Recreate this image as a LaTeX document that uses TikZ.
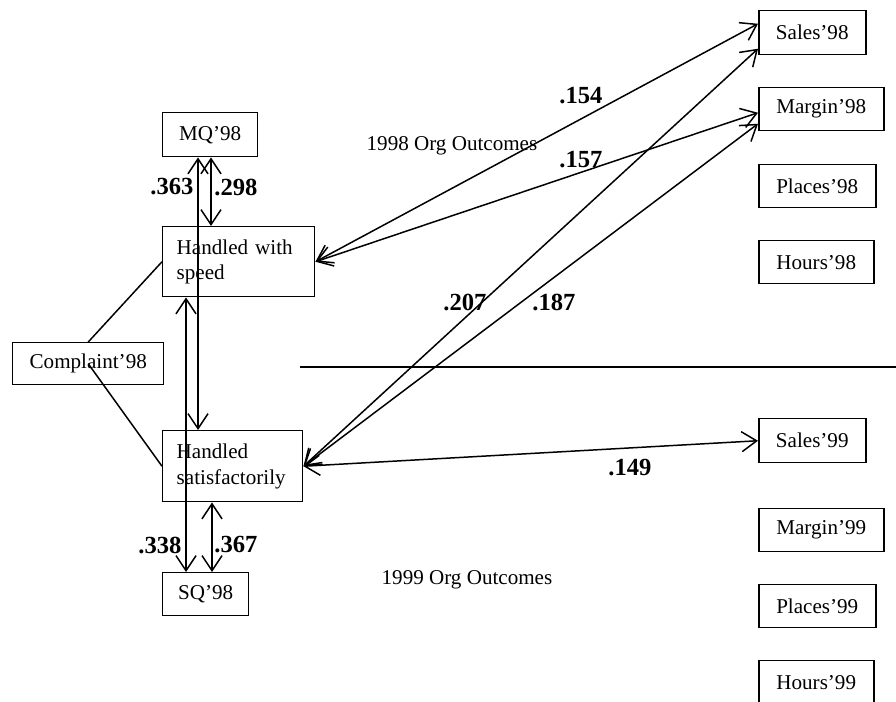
\documentclass[tikz,border=0pt]{standalone}
\usepackage{fontspec}
\setmainfont{Liberation Serif}
\usetikzlibrary{arrows.meta,positioning}

\begin{document}
\begin{tikzpicture} [line width=0.85pt, >={Straight Barb[length=0.3cm,width=0.4cm]}, every node/.style={font=\fontsize{12}{14.5}\selectfont}]
	
	\tikzstyle{arrow2} = [<->, line width=0.85pt]
	\tikzstyle{box1}=[draw, anchor=north west, inner sep=0pt];
	\tikzstyle{box2}=[draw, anchor=north west, align=left, inner xsep=0.28cm, inner ysep=0pt];
	\tikzstyle{node1}=[text=black];
	\tikzstyle{node3}=[text=black, font=\fontsize{14}{16}\selectfont\bfseries];
	
	\useasboundingbox (0,0) rectangle (17.92,-14.04);
	
	% left side
	\node [box1, minimum width=1.9cm, minimum height=0.88cm] (mq) at (3.24,-2.24){MQ'98};
	\node [box2, text width=2.48cm, minimum height=1.4cm] (speed) at (3.24,-4.52){Handled with\\speed};
	\node [box1, minimum width=3.02cm, minimum height=0.84cm] (compl) at (0.24,-6.84){Complaint'98};
	\node [box2, text width=2.24cm, minimum height=1.42cm] (satis) at (3.24,-8.6){Handled\\satisfactorily};
	\node [box1, minimum width=1.72cm, minimum height=0.86cm] (sq) at (3.24,-11.44){SQ'98};
	
	% outcomes
	\node [box1, minimum width=2.14cm, minimum height=0.88cm] (sales98) at (15.16,-0.2){Sales'98};
	\node [box1, minimum width=2.5cm, minimum height=0.86cm] (margin98) at (15.16,-1.74){Margin'98};
	\node [box1, minimum width=2.34cm, minimum height=0.86cm] (places98) at (15.16,-3.28){Places'98};
	\node [box1, minimum width=2.3cm, minimum height=0.86cm] (hours98) at (15.16,-4.8){Hours'98};
	\node [box1, minimum width=2.14cm, minimum height=0.88cm] (sales99) at (15.16,-8.36){Sales'99};
	\node [box1, minimum width=2.5cm, minimum height=0.86cm] (margin99) at (15.16,-10.16){Margin'99};
	\node [box1, minimum width=2.34cm, minimum height=0.86cm] (places99) at (15.16,-11.68){Places'99};
	\node [box1, minimum width=2.3cm, minimum height=0.88cm] (hours99) at (15.16,-13.2){Hours'99};
	
	\node [node1] (org98) at (9.04,-2.92){1998 Org Outcomes};
	\node [node1] (org99) at (9.34,-11.6){1999 Org Outcomes};
	
	\coordinate (divl) at (6,-7.34);
	\coordinate (divr) at (17.92,-7.34);
	\draw (divl) -- (divr);
	
	\draw (compl.north) -- (speed.west);
	\draw (compl.center) -- (satis.west);
	
	\draw [arrow2] ([xshift=0.72cm]mq.south west) -- ([xshift=0.72cm]satis.north west);
	\draw [arrow2] ([xshift=0.98cm]mq.south west) -- ([xshift=0.98cm]speed.north west);
	\draw [arrow2] ([xshift=0.48cm]speed.south west) -- ([xshift=0.48cm]sq.north west);
	\draw [arrow2] ([xshift=1cm]satis.south west) -- ([xshift=1cm]sq.north west);
	
	\draw [arrow2] (speed.east) -- ([yshift=0.18cm]sales98.west);
	\draw [arrow2] (speed.east) -- ([yshift=-0.07cm]margin98.west);
	\draw [arrow2] (satis.east) -- ([yshift=-0.32cm]sales98.west);
	\draw [arrow2] (satis.east) -- ([yshift=-0.29cm]margin98.west);
	\draw [arrow2] (satis.east) -- (sales99.west);
	
	\node [node3] (v363) at (3.44,-3.74){.363};
	\node [node3] (v298) at (4.72,-3.74){.298};
	\node [node3] (v338) at (3.2,-10.9){.338};
	\node [node3] (v367) at (4.72,-10.9){.367};
	\node [node3] (v154) at (11.62,-1.92){.154};
	\node [node3] (v157) at (11.62,-3.2){.157};
	\node [node3] (v207) at (9.3,-6.04){.207};
	\node [node3] (v187) at (11.08,-6.04){.187};
	\node [node3] (v149) at (12.6,-9.36){.149};
	
\end{tikzpicture}
\end{document}
